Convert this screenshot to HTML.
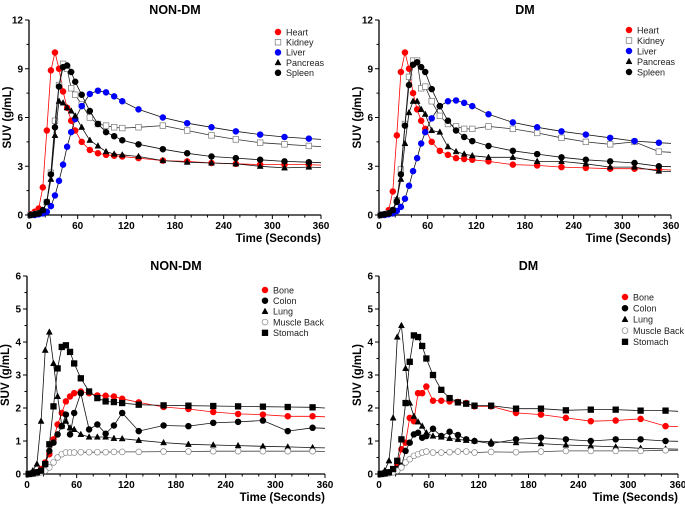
<!DOCTYPE html>
<html><head><meta charset="utf-8"><style>
body{margin:0;background:#fff;}
svg text{font-family:"Liberation Sans",Arial,sans-serif;}
</style></head><body>
<svg id="c" width="685" height="504" viewBox="0 0 685 504" xmlns="http://www.w3.org/2000/svg"></svg>
<script>
const times=[2,7,12,17,22,27,32,37,42,47,52,57,65,75,85,95,105,115,135,165,195,225,255,285,315,345];
const nd_heart=[0.05,0.2,0.4,1.7,5.2,8.9,10.0,9.0,7.6,6.6,5.8,5.2,4.5,4.0,3.8,3.7,3.65,3.6,3.5,3.35,3.3,3.2,3.15,3.1,3.1,3.1];
const nd_kidney=[0,0.05,0.1,0.2,0.8,2.6,5.8,8.0,9.3,9.0,7.8,7.4,6.8,6.0,5.6,5.5,5.4,5.35,5.4,5.5,5.2,4.9,4.65,4.45,4.35,4.25];
const nd_liver=[0,0,0.05,0.1,0.2,0.55,1.2,2.1,3.1,4.2,5.1,5.9,6.7,7.45,7.65,7.55,7.3,7.0,6.5,6.0,5.65,5.4,5.15,4.95,4.8,4.7];
const nd_pancreas=[0,0.05,0.1,0.3,0.8,2.2,4.9,7.0,6.9,6.6,6.4,6.1,5.4,4.6,4.25,3.9,3.75,3.7,3.6,3.35,3.25,3.2,3.15,3.0,2.9,2.95];
const nd_spleen=[0,0.05,0.1,0.3,0.8,2.5,5.4,7.9,9.1,9.2,8.8,8.2,7.4,6.4,5.6,5.1,4.85,4.6,4.35,4.05,3.8,3.6,3.5,3.4,3.3,3.25];
const dm_heart=[0,0.05,0.3,1.45,4.9,8.8,10.0,9.0,7.5,6.5,5.8,5.3,4.5,3.95,3.7,3.5,3.45,3.4,3.3,3.1,3.05,2.95,2.9,2.85,2.85,2.8];
const dm_kidney=[0,0.05,0.1,0.3,0.9,2.8,5.6,8.5,9.5,9.5,7.8,7.9,7.0,6.1,5.6,5.45,5.3,5.3,5.45,5.3,5.05,4.75,4.5,4.35,4.5,3.9];
const dm_liver=[0,0,0.05,0.1,0.25,0.5,1.0,1.8,2.7,3.5,4.4,5.1,5.95,6.7,7.0,7.05,6.9,6.7,6.2,5.7,5.4,5.15,4.95,4.75,4.55,4.45];
const dm_pancreas=[0,0.05,0.1,0.3,1.0,2.2,4.4,6.3,7.0,7.0,6.5,6.2,5.2,5.1,4.2,3.9,3.75,3.65,3.55,3.55,3.3,3.3,3.15,2.95,2.95,2.7];
const dm_spleen=[0,0.05,0.1,0.3,0.8,2.5,5.5,8.0,9.25,9.4,9.1,8.8,7.75,6.7,5.8,5.2,4.8,4.55,4.25,3.95,3.75,3.55,3.4,3.3,3.2,3.0];
const nd_bone=[0,0.02,0.05,0.15,0.35,0.6,1.05,1.5,1.85,2.2,2.35,2.45,2.5,2.45,2.38,2.37,2.35,2.28,2.17,2.03,1.97,1.88,1.82,1.8,1.75,1.75];
const nd_colon=[0,0.02,0.05,0.1,0.3,0.7,0.95,1.2,1.45,1.8,1.2,1.85,2.45,1.35,1.5,1.22,1.47,1.85,1.3,1.47,1.45,1.55,1.58,1.62,1.3,1.4];
const nd_lung=[0,0.1,0.3,1.6,3.75,4.3,3.35,2.35,1.45,1.6,1.4,1.35,1.2,1.12,1.12,1.12,1.08,1.07,1.02,0.95,0.9,0.88,0.86,0.84,0.82,0.8];
const nd_muscle=[0,0,0.02,0.05,0.1,0.2,0.35,0.5,0.6,0.65,0.65,0.65,0.66,0.66,0.66,0.66,0.67,0.67,0.67,0.68,0.68,0.69,0.69,0.69,0.69,0.69];
const nd_stomach=[0,0.02,0.05,0.1,0.3,0.9,2.05,3.2,3.85,3.9,3.7,3.35,2.9,2.5,2.3,2.2,2.18,2.15,2.1,2.08,2.07,2.06,2.05,2.04,2.03,2.02];
const dm_bone=[0,0.02,0.05,0.1,0.3,0.75,0.95,1.7,1.6,2.45,2.45,2.65,2.22,2.22,2.2,2.18,2.15,2.05,2.05,1.85,1.8,1.7,1.6,1.62,1.67,1.45];
const dm_colon=[0,0.02,0.05,0.1,0.15,0.25,0.7,0.95,1.2,1.25,1.1,1.15,1.37,1.15,1.28,1.18,1.05,1.0,0.92,1.05,1.1,1.05,1.0,1.05,1.05,1.0];
const dm_lung=[0,0.1,0.4,1.7,4.15,4.5,3.2,2.15,1.75,1.58,1.45,1.25,1.15,1.12,1.08,1.05,1.02,1.0,0.98,0.95,0.92,0.88,0.85,0.82,0.78,0.76];
const dm_muscle=[0,0,0.02,0.05,0.1,0.2,0.35,0.45,0.55,0.6,0.65,0.68,0.65,0.65,0.66,0.68,0.68,0.65,0.67,0.66,0.68,0.7,0.7,0.7,0.7,0.72];
const dm_stomach=[0,0.02,0.05,0.15,0.4,1.05,2.15,3.4,4.2,4.15,3.88,3.5,3.0,2.55,2.3,2.17,2.13,2.07,2.07,1.98,1.98,1.93,1.95,1.95,1.92,1.92];
const xTicks=[0,60,120,180,240,300,360];
const yTicksTop=[0,3,6,9,12];
const yTicksBot=[0,1,2,3,4,5,6];
const namesTop=["Heart","Kidney","Liver","Pancreas","Spleen"];
const namesBot=["Bone","Colon","Lung","Muscle Back","Stomach"];

const svg=document.getElementById('c');
const NS="http://www.w3.org/2000/svg";
function mk(tag,attrs,parent){const e=document.createElementNS(NS,tag);for(const k in attrs)e.setAttribute(k,attrs[k]);(parent||svg).appendChild(e);return e;}

function marker(g,shape,color,fill,x,y){
  let e;
  if(shape==='circle'){e=mk('circle',{cx:x,cy:y,r:2.9,fill:fill,stroke:color,'stroke-width':0.7},g);}
  else if(shape==='square'){e=mk('rect',{x:x-2.8,y:y-2.8,width:5.6,height:5.6,fill:fill,stroke:color,'stroke-width':0.7},g);}
  else {e=mk('polygon',{points:`${x},${y-3.3} ${x+3},${y+2.3} ${x-3},${y+2.3}`,fill:fill,stroke:color,'stroke-width':0.5},g);}
  return e;
}

function panel(id,title,x0,x1,y0,y1,ymax,yTicks,series,names,legX,legY,legDy){
  const g=mk('g',{});
  
  
  const sx=v=>x0+(x1-x0)*v/360, sy=v=>y0-(y0-y1)*v/ymax;
  const t=mk('text',{x:(x0+x1)/2,y:y1-6,'text-anchor':'middle','font-size':12.5,'font-weight':'bold'},g);t.textContent=title;
  
  
  const ax=mk('path',{d:`M${x0},${y1} V${y0} H${x1}`,stroke:'#000','stroke-width':1.3,fill:'none'},g);
  
  
  for(let v=0;v<=360;v+=20){const major=v%60===0;mk('line',{x1:sx(v),x2:sx(v),y1:y0,y2:y0+(major?4:2.5),stroke:'#000','stroke-width':1},g);}
  xTicks.forEach(v=>{const e=mk('text',{x:sx(v),y:y0+14,'text-anchor':'middle','font-size':10,'font-weight':'bold'},g);e.textContent=v;
    
    });
  const step=yTicks[1]-yTicks[0];
  for(let v=0;v<=ymax+1e-9;v+=step/2){const major=Math.abs(v/step-Math.round(v/step))<1e-6;mk('line',{x1:x0,x2:x0-(major?4:2.5),y1:sy(v),y2:sy(v),stroke:'#000','stroke-width':1},g);}
  yTicks.forEach(v=>{const e=mk('text',{x:x0-6,y:sy(v)+3.5,'text-anchor':'end','font-size':10,'font-weight':'bold'},g);e.textContent=v;
    
    });
  const xl=mk('text',{x:x1,y:y0+27,'text-anchor':'end','font-size':11.5,'font-weight':'bold'},g);xl.textContent='Time (Seconds)';
  
  
  const yc=(y0+y1)/2;
  const yl=mk('text',{x:0,y:0,transform:`translate(${x0-18},${yc}) rotate(-90)`,'text-anchor':'middle','font-size':11.5,'font-weight':'bold'},g);yl.textContent='SUV (g/mL)';
  
  
  series.forEach((s,i)=>{
    const sg=mk('g',{},g);
    
    
    let d='';
    s.vals.forEach((v,j)=>{d+=(j?'L':'M')+sx(times[j]).toFixed(1)+','+sy(v).toFixed(1);});
    d+='L'+sx(360).toFixed(1)+','+sy(s.vals[s.vals.length-1]*0.99).toFixed(1);
    mk('path',{d:d,fill:'none',stroke:s.line,'stroke-width':0.8},sg);
    s.vals.forEach((v,j)=>{const m=marker(sg,s.shape,s.color,s.fill,sx(times[j]),sy(v));
      
      });
    const lg=mk('g',{},g);
    
    
    const ly=legY+i*legDy;
    marker(lg,s.shape,s.color,s.fill,legX,ly);
    const lt=mk('text',{x:legX+8,y:ly+3.3,'font-size':9,fill:'#222'},lg);lt.textContent=names[i];
  });
}
const topSeries=(h,k,l,p,s)=>[
 {vals:h,shape:'circle',color:'#f00',fill:'#f00',line:'#f00'},
 {vals:k,shape:'square',color:'#777',fill:'#fff',line:'#333'},
 {vals:l,shape:'circle',color:'#00f',fill:'#00f',line:'#111'},
 {vals:p,shape:'tri',color:'#000',fill:'#000',line:'#111'},
 {vals:s,shape:'circle',color:'#000',fill:'#000',line:'#111'}];
const botSeries=(b,c,l,m,s)=>[
 {vals:b,shape:'circle',color:'#f00',fill:'#f00',line:'#f00'},
 {vals:c,shape:'circle',color:'#000',fill:'#000',line:'#111'},
 {vals:l,shape:'tri',color:'#000',fill:'#000',line:'#111'},
 {vals:m,shape:'circle',color:'#888',fill:'#fff',line:'#444'},
 {vals:s,shape:'square',color:'#000',fill:'#000',line:'#111'}];
panel('panel-nondm-organs','NON-DM',29,321,215,20,12,yTicksTop,topSeries(nd_heart,nd_kidney,nd_liver,nd_pancreas,nd_spleen),namesTop,278,32,10.2);
panel('panel-dm-organs','DM',379,671,215,20,12,yTicksTop,topSeries(dm_heart,dm_kidney,dm_liver,dm_pancreas,dm_spleen),namesTop,629,30,10.5);
panel('panel-nondm-tissues','NON-DM',27,325,474,276,6,yTicksBot,botSeries(nd_bone,nd_colon,nd_lung,nd_muscle,nd_stomach),namesBot,265,290,10.7);
panel('panel-dm-tissues','DM',379,678,474,276,6,yTicksBot,botSeries(dm_bone,dm_colon,dm_lung,dm_muscle,dm_stomach),namesBot,625,297,11.2);
</script>
</body></html>
